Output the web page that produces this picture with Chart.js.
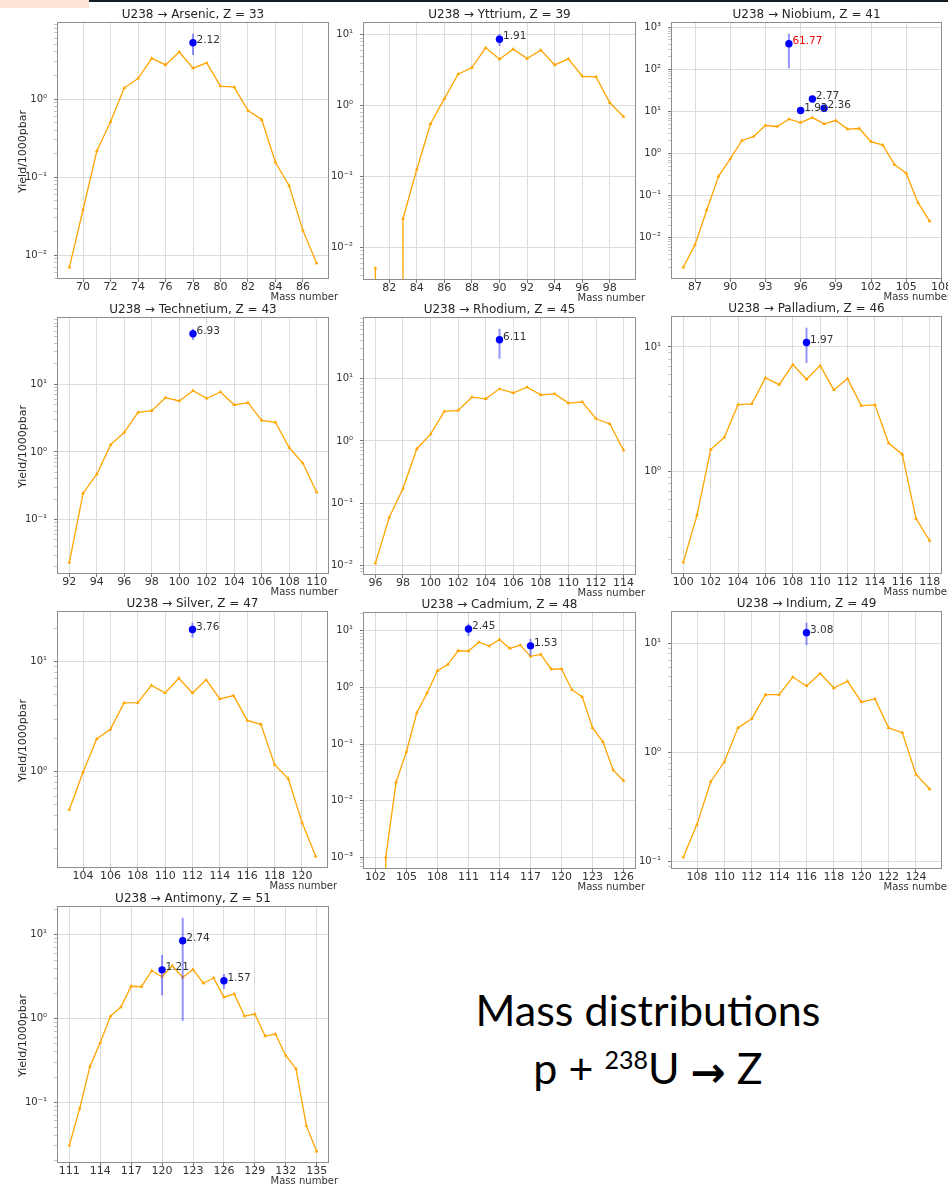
<!DOCTYPE html>
<html>
<head>
<meta charset="utf-8">
<title>Mass distributions p + 238U → Z</title>
<script src="https://cdn.jsdelivr.net/npm/chart.js@4.4.1/dist/chart.umd.min.js"></script>
<style>
  html, body { margin: 0; padding: 0; background: #fff; }
  body { width: 948px; height: 1185px; position: relative; overflow: hidden; }
  canvas { position: absolute; }
  .tab { position: absolute; left: 0; top: 0; width: 89px; height: 8px; background: #fde5d6; }
  .rule { position: absolute; left: 89px; top: 0; right: 0; height: 2px; background: #131b25; }
  .caption { position: absolute; left: 448px; width: 400px; text-align: center;
             font-family: Lato, "Open Sans", sans-serif; font-size: 43px; line-height: 43px;
             color: #000; white-space: nowrap; }
  .caption .iso { font-size: 25px; position: relative; top: -15px; }
  .caption .arr { font-family: "DejaVu Sans"; font-weight: bold; font-size: 42px; position: relative; top: 3px; }
</style>
</head>
<body>
<div class="tab"></div>
<div class="rule"></div>
<div class="caption" style="top:988px">Mass distributions</div>
<div class="caption" style="top:1046px">p + <span class="iso">238</span>U <span class="arr">→</span> Z</div>

<script>
// ---- model yields (orange) and measured points (blue), per element ----

// Arsenic, Z = 33
const asMass = [69, 70, 71, 72, 73, 74, 75, 76, 77, 78, 79, 80, 81, 82, 83, 84, 85, 86, 87];
const asYield = [0.0070, 0.0385, 0.216, 0.51, 1.39, 1.83, 3.32, 2.73, 4.0, 2.48, 2.9, 1.46, 1.42, 0.71, 0.546, 0.155, 0.0776, 0.0208, 0.0079];
const asExpMass = [78];
const asExpYield = [5.26];
const asExpErr = [1.6];
const asRatio = ['2.12'];
const asTicks = [70, 72, 74, 76, 78, 80, 82, 84, 86];

// Yttrium, Z = 39
const yMass = [81, 82, 83, 84, 85, 86, 87, 88, 89, 90, 91, 92, 93, 94, 95, 96, 97, 98, 99];
const yYield = [0.0051, 0, 0.0255, 0.126, 0.556, 1.26, 2.78, 3.45, 6.55, 4.53, 6.27, 4.62, 6.07, 3.76, 4.57, 2.60, 2.55, 1.10, 0.70];
const yExpMass = [90];
const yExpYield = [8.65];
const yExpErr = [1.7];
const yRatio = ['1.91'];
const yTicks = [82, 84, 86, 88, 90, 92, 94, 96, 98];

// Niobium, Z = 41
const nbMass = [86, 87, 88, 89, 90, 91, 92, 93, 94, 95, 96, 97, 98, 99, 100, 101, 102, 103, 104, 105, 106, 107];
const nbYield = [0.0020, 0.0069, 0.046, 0.29, 0.75, 2.06, 2.56, 4.66, 4.41, 6.57, 5.48, 7.19, 5.10, 6.11, 3.82, 3.96, 1.92, 1.60, 0.55, 0.344, 0.0686, 0.0249];
const nbExpMass = [95, 96, 97, 98];
const nbExpYield = [406, 10.6, 19.9, 12.0];
const nbExpErr = [300, 1.5, 2.5, 2.0];
const nbRatio = ['61.77', '1.93', '2.77', '2.36'];
const nbTicks = [87, 90, 93, 96, 99, 102, 105, 108];

// Technetium, Z = 43
const tcMass = [92, 93, 94, 95, 96, 97, 98, 99, 100, 101, 102, 103, 104, 105, 106, 107, 108, 109, 110];
const tcYield = [0.0234, 0.246, 0.469, 1.27, 1.95, 3.84, 4.07, 6.32, 5.65, 8.02, 6.18, 7.67, 4.93, 5.34, 2.93, 2.74, 1.16, 0.68, 0.254];
const tcExpMass = [101];
const tcExpYield = [55.6];
const tcExpErr = [10.5];
const tcRatio = ['6.93'];
const tcTicks = [92, 94, 96, 98, 100, 102, 104, 106, 108, 110];

// Rhodium, Z = 45
const rhMass = [96, 97, 98, 99, 100, 101, 102, 103, 104, 105, 106, 107, 108, 109, 110, 111, 112, 113, 114];
const rhYield = [0.0110, 0.0598, 0.173, 0.745, 1.29, 2.97, 3.08, 5.03, 4.74, 6.84, 5.90, 7.27, 5.49, 5.69, 4.04, 4.24, 2.27, 1.87, 0.71];
const rhExpMass = [105];
const rhExpYield = [41.8];
const rhExpErr = [21];
const rhRatio = ['6.11'];
const rhTicks = [96, 98, 100, 102, 104, 106, 108, 110, 112, 114];

// Palladium, Z = 46
const pdMass = [100, 101, 102, 103, 104, 105, 106, 107, 108, 109, 110, 111, 112, 113, 114, 115, 116, 117, 118];
const pdYield = [0.189, 0.450, 1.51, 1.89, 3.46, 3.50, 5.65, 5.0, 7.22, 5.51, 7.09, 4.53, 5.58, 3.39, 3.44, 1.70, 1.38, 0.423, 0.281];
const pdExpMass = [109];
const pdExpYield = [10.85];
const pdExpErr = [3.4];
const pdRatio = ['1.97'];
const pdTicks = [100, 102, 104, 106, 108, 110, 112, 114, 116, 118];

// Silver, Z = 47
const agMass = [103, 104, 105, 106, 107, 108, 109, 110, 111, 112, 113, 114, 115, 116, 117, 118, 119, 120, 121];
const agYield = [0.453, 0.99, 1.99, 2.43, 4.22, 4.25, 6.09, 5.20, 7.08, 5.20, 6.84, 4.59, 4.92, 2.93, 2.70, 1.16, 0.865, 0.348, 0.171];
const agExpMass = [112];
const agExpYield = [19.6];
const agExpErr = [3.0];
const agRatio = ['3.76'];
const agTicks = [104, 106, 108, 110, 112, 114, 116, 118, 120];

// Cadmium, Z = 48
const cdMass = [102, 103, 104, 105, 106, 107, 108, 109, 110, 111, 112, 113, 114, 115, 116, 117, 118, 119, 120, 121, 122, 123, 124, 125, 126];
const cdYield = [0, 0.00100, 0.0213, 0.0731, 0.356, 0.796, 1.96, 2.52, 4.43, 4.37, 6.28, 5.35, 6.98, 4.86, 5.56, 3.53, 3.82, 2.09, 2.12, 0.910, 0.678, 0.192, 0.109, 0.0345, 0.0225];
const cdExpMass = [111, 117];
const cdExpYield = [10.7, 5.40];
const cdExpErr = [2.6, 1.8];
const cdRatio = ['2.45', '1.53'];
const cdTicks = [102, 105, 108, 111, 114, 117, 120, 123, 126];

// Indium, Z = 49
const inMass = [107, 108, 109, 110, 111, 112, 113, 114, 115, 116, 117, 118, 119, 120, 121, 122, 123, 124, 125];
const inYield = [0.110, 0.220, 0.540, 0.822, 1.69, 2.04, 3.38, 3.38, 4.90, 4.06, 5.29, 3.89, 4.50, 2.90, 3.09, 1.68, 1.52, 0.630, 0.463];
const inExpMass = [116];
const inExpYield = [12.5];
const inExpErr = [2.9];
const inRatio = ['3.08'];
const inTicks = [108, 110, 112, 114, 116, 118, 120, 122, 124];

// Antimony, Z = 51
const sbMass = [111, 112, 113, 114, 115, 116, 117, 118, 119, 120, 121, 122, 123, 124, 125, 126, 127, 128, 129, 130, 131, 132, 133, 134, 135];
const sbYield = [0.0305, 0.0842, 0.268, 0.516, 1.07, 1.37, 2.43, 2.41, 3.72, 3.16, 4.27, 3.10, 3.86, 2.64, 3.05, 1.80, 1.97, 1.07, 1.13, 0.618, 0.653, 0.362, 0.250, 0.0525, 0.0259];
const sbExpMass = [120, 122, 126];
const sbExpYield = [3.82, 8.49, 2.83];
const sbExpErr = [1.93, 7.55, 0.57];
const sbRatio = ['1.21', '2.74', '1.57'];
const sbTicks = [111, 114, 117, 120, 123, 126, 129, 132, 135];

// ---- layout: plot box [left, top, right, bottom] on the page ----
const panels = [
  { name: 'Arsenic', z: 33, mass: asMass, yld: asYield, eM: asExpMass, eY: asExpYield, eE: asExpErr, ratio: asRatio, ticks: asTicks, box: [57, 22, 329, 279], ylabel: true },
  { name: 'Yttrium', z: 39, mass: yMass, yld: yYield, eM: yExpMass, eY: yExpYield, eE: yExpErr, ratio: yRatio, ticks: yTicks, box: [363, 22, 636, 280] },
  { name: 'Niobium', z: 41, mass: nbMass, yld: nbYield, eM: nbExpMass, eY: nbExpYield, eE: nbExpErr, ratio: nbRatio, ticks: nbTicks, box: [671, 22, 942, 279], labelColors: ['#ff0000'] },
  { name: 'Technetium', z: 43, mass: tcMass, yld: tcYield, eM: tcExpMass, eY: tcExpYield, eE: tcExpErr, ratio: tcRatio, ticks: tcTicks, box: [57, 317, 329, 574], ylabel: true },
  { name: 'Rhodium', z: 45, mass: rhMass, yld: rhYield, eM: rhExpMass, eY: rhExpYield, eE: rhExpErr, ratio: rhRatio, ticks: rhTicks, box: [363, 317, 636, 575] },
  { name: 'Palladium', z: 46, mass: pdMass, yld: pdYield, eM: pdExpMass, eY: pdExpYield, eE: pdExpErr, ratio: pdRatio, ticks: pdTicks, box: [671, 316, 942, 574] },
  { name: 'Silver', z: 47, mass: agMass, yld: agYield, eM: agExpMass, eY: agExpYield, eE: agExpErr, ratio: agRatio, ticks: agTicks, box: [57, 611, 328, 868], ylabel: true },
  { name: 'Cadmium', z: 48, mass: cdMass, yld: cdYield, eM: cdExpMass, eY: cdExpYield, eE: cdExpErr, ratio: cdRatio, ticks: cdTicks, box: [363, 612, 636, 869] },
  { name: 'Indium', z: 49, mass: inMass, yld: inYield, eM: inExpMass, eY: inExpYield, eE: inExpErr, ratio: inRatio, ticks: inTicks, box: [671, 611, 942, 869] },
  { name: 'Antimony', z: 51, mass: sbMass, yld: sbYield, eM: sbExpMass, eY: sbExpYield, eE: sbExpErr, ratio: sbRatio, ticks: sbTicks, box: [57, 906, 329, 1163], ylabel: true }
];

const Y_AXIS_W = 57;   // room left of each plot box
const X_AXIS_H = 26;   // room below each plot box
const PAD_TOP = 22;    // title strip
const PAD_RIGHT = 14;  // lets "Mass number" run past the frame
const ORANGE = '#ffa500';
const BLUE = '#0000ff';
const GRID = '#dcdcdc';
const FONT = '"DejaVu Sans", sans-serif';
// zero yields sit far below the axis, like a clipped log axis
const CLIPPED = 1e-300;

const SUP = { '0': '⁰', '1': '¹', '2': '²', '3': '³', '4': '⁴', '5': '⁵', '6': '⁶', '7': '⁷', '8': '⁸', '9': '⁹', '-': '⁻' };
const decadeLabel = e => '10' + String(e).split('').map(c => SUP[c]).join('');
const isDecade = v => Math.abs(Math.log10(v) - Math.round(Math.log10(v))) < 1e-9;

// autoscale like matplotlib: 5% margins (log space for y)
function xLimits(p) {
  const lo = Math.min(...p.mass), hi = Math.max(...p.mass);
  const m = 0.05 * (hi - lo);
  return [lo - m, hi + m];
}
function yLimits(p) {
  const vals = p.yld.filter(v => v > 0);
  p.eY.forEach((v, i) => {
    vals.push(v + p.eE[i]);
    if (v - p.eE[i] > 0) vals.push(v - p.eE[i]);
  });
  const lo = Math.log10(Math.min(...vals)), hi = Math.log10(Math.max(...vals));
  const m = 0.05 * (hi - lo);
  return [Math.pow(10, lo - m), Math.pow(10, hi + m)];
}

// frame on all four sides
const framePlugin = {
  id: 'frame',
  afterDraw(chart) {
    const { ctx, chartArea: a } = chart;
    ctx.save();
    ctx.strokeStyle = '#8e8e8e';
    ctx.lineWidth = 1;
    ctx.strokeRect(Math.round(a.left) + 0.5, Math.round(a.top) + 0.5,
      Math.round(a.right - a.left) - 1, Math.round(a.bottom - a.top) - 1);
    ctx.restore();
  }
};

// vertical error bars, drawn just before the measured points
const errorBarPlugin = {
  id: 'errorBars',
  beforeDatasetDraw(chart, args) {
    if (args.index !== 1) return;
    const p = chart.config.options.panel;
    const { ctx, chartArea: a, scales: { x, y } } = chart;
    ctx.save();
    ctx.beginPath();
    ctx.rect(a.left, a.top, a.right - a.left, a.bottom - a.top);
    ctx.clip();
    ctx.strokeStyle = 'rgba(60, 60, 255, 0.55)';
    ctx.lineWidth = 2;
    p.eM.forEach((m, i) => {
      const px = x.getPixelForValue(m);
      const top = y.getPixelForValue(p.eY[i] + p.eE[i]);
      const bot = y.getPixelForValue(Math.max(p.eY[i] - p.eE[i], CLIPPED));
      ctx.beginPath();
      ctx.moveTo(px, top);
      ctx.lineTo(px, bot);
      ctx.stroke();
    });
    ctx.restore();
  }
};

// titles, axis labels and the ratio annotations
const textPlugin = {
  id: 'panelText',
  afterDraw(chart) {
    const p = chart.config.options.panel;
    const { ctx, chartArea: a, scales: { x, y } } = chart;
    ctx.save();
    ctx.fillStyle = '#262626';
    ctx.font = '12px ' + FONT;
    ctx.textAlign = 'center';
    ctx.textBaseline = 'middle';
    ctx.fillText('U238 → ' + p.name + ', Z = ' + p.z, (a.left + a.right) / 2, a.top - 7.5);

    ctx.font = '10px ' + FONT;
    ctx.fillStyle = '#333';
    ctx.textAlign = 'right';
    ctx.fillText('Mass number', a.right + 9, a.bottom + 18);

    if (p.ylabel) {
      ctx.save();
      ctx.translate(a.left - 34, (a.top + a.bottom) / 2 + 1);
      ctx.rotate(-Math.PI / 2);
      ctx.textAlign = 'center';
      ctx.font = '11px ' + FONT;
      ctx.fillStyle = '#262626';
      ctx.fillText('Yield/1000pbar', 0, 0);
      ctx.restore();
    }

    ctx.font = '10.5px ' + FONT;
    ctx.textAlign = 'left';
    p.eM.forEach((m, i) => {
      ctx.fillStyle = (p.labelColors && p.labelColors[i]) || '#333';
      ctx.fillText(p.ratio[i], x.getPixelForValue(m) + 3.5, y.getPixelForValue(p.eY[i]) - 2.5);
    });
    ctx.restore();
  }
};

panels.forEach(p => {
  const [l, t, r, b] = p.box;
  const canvas = document.createElement('canvas');
  const w = r - l + Y_AXIS_W + PAD_RIGHT;
  const h = b - t + PAD_TOP + X_AXIS_H;
  canvas.width = w;
  canvas.height = h;
  canvas.style.left = (l - Y_AXIS_W) + 'px';
  canvas.style.top = (t - PAD_TOP) + 'px';
  canvas.style.width = w + 'px';
  canvas.style.height = h + 'px';
  document.body.appendChild(canvas);

  const [xMin, xMax] = xLimits(p);
  const [yMin, yMax] = yLimits(p);

  new Chart(canvas, {
    type: 'line',
    data: {
      datasets: [
        {
          data: p.mass.map((m, i) => ({ x: m, y: p.yld[i] > 0 ? p.yld[i] : CLIPPED })),
          borderColor: ORANGE,
          backgroundColor: ORANGE,
          borderWidth: 1.3,
          pointStyle: 'triangle',
          pointRadius: 2.2,
          pointBorderWidth: 0,
          order: 1
        },
        {
          data: p.eM.map((m, i) => ({ x: m, y: p.eY[i] })),
          showLine: false,
          pointStyle: 'circle',
          pointRadius: 3.7,
          pointBackgroundColor: BLUE,
          pointBorderWidth: 0,
          order: 0
        }
      ]
    },
    options: {
      panel: p,
      responsive: false,
      animation: false,
      devicePixelRatio: 1,
      events: [],
      layout: { padding: { left: 0, top: PAD_TOP, right: PAD_RIGHT, bottom: 0 } },
      plugins: { legend: { display: false }, tooltip: { enabled: false }, title: { display: false } },
      scales: {
        x: {
          type: 'linear',
          min: xMin,
          max: xMax,
          bounds: 'data',
          afterBuildTicks: s => { s.ticks = p.ticks.filter(v => v >= xMin && v <= xMax).map(v => ({ value: v })); },
          afterFit: s => { s.height = X_AXIS_H; s.paddingLeft = 0; s.paddingRight = 0; },
          border: { display: false },
          grid: { color: GRID, lineWidth: 1, drawTicks: true, tickLength: 3, tickColor: '#777' },
          ticks: {
            autoSkip: false, maxRotation: 0, minRotation: 0, padding: 0,
            color: '#333', font: { family: FONT, size: 11, lineHeight: 1 },
            callback: v => String(v)
          }
        },
        y: {
          type: 'logarithmic',
          min: yMin,
          max: yMax,
          bounds: 'data',
          afterBuildTicks: s => {
            const ticks = [];
            for (let e = Math.floor(Math.log10(yMin)); e <= Math.ceil(Math.log10(yMax)); e++) {
              for (let k = 1; k <= 9; k++) {
                const v = k * Math.pow(10, e);
                if (v >= yMin && v <= yMax) ticks.push({ value: v });
              }
            }
            s.ticks = ticks;
          },
          afterFit: s => { s.width = Y_AXIS_W; s.paddingTop = 0; s.paddingBottom = 0; },
          border: { display: false },
          grid: {
            color: c => (c.tick && isDecade(c.tick.value) ? GRID : 'rgba(0,0,0,0)'),
            lineWidth: 1,
            drawTicks: true,
            tickLength: 3,
            tickColor: c => (c.tick && isDecade(c.tick.value) ? '#777' : '#aaa'),
            tickWidth: c => (c.tick && isDecade(c.tick.value) ? 1 : 0.7)
          },
          ticks: {
            autoSkip: false, padding: 7,
            color: '#333', font: { family: FONT, size: 10, lineHeight: 1 },
            callback: v => (isDecade(v) ? decadeLabel(Math.round(Math.log10(v))) : '')
          }
        }
      }
    },
    plugins: [framePlugin, errorBarPlugin, textPlugin]
  });
});
</script>
</body>
</html>
